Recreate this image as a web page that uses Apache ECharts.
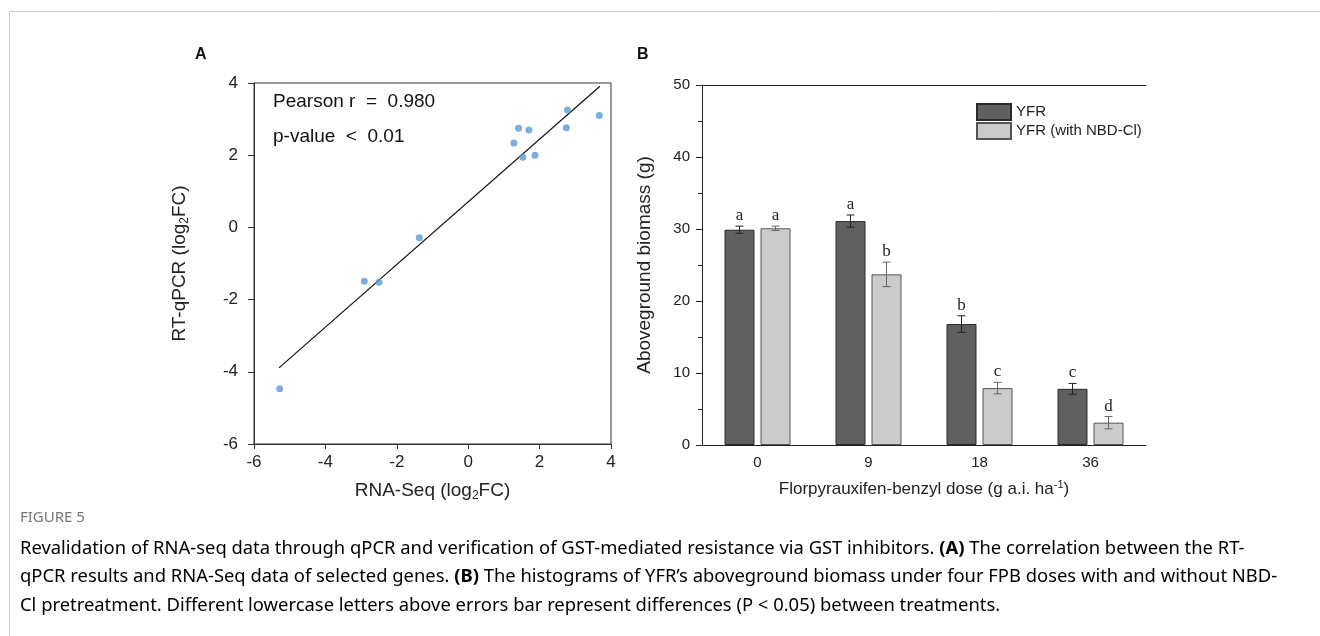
<!DOCTYPE html>
<html>
<head>
<meta charset="utf-8">
<script src="https://cdn.jsdelivr.net/npm/echarts@6/dist/echarts.min.js"></script>
<style>
  html, body { margin: 0; padding: 0; background: #fff; }
  #chart { width: 1320px; height: 636px; }
</style>
</head>
<body>
<div id="chart"></div>
<script>
// ---- panel A: RT-qPCR vs RNA-Seq (log2FC) ----
const rnaSeq = [-5.28, -2.91, -2.50, -1.37, 1.28, 1.41, 1.53, 1.70, 1.87, 2.75, 2.78, 3.67];
const rtqPcr = [-4.47, -1.49, -1.52, -0.29, 2.34, 2.75, 1.94, 2.70, 2.00, 2.76, 3.25, 3.10];
// fitted line end points
const fitX = [-5.30, 3.69];
const fitY = [-3.89, 3.91];

// ---- panel B: aboveground biomass ----
const doses = ['0', '9', '18', '36'];
const yfr = [29.9, 31.1, 16.8, 7.8];
const yfrErr = [0.5, 0.85, 1.15, 0.75];
const yfrLetters = ['a', 'a', 'b', 'c'];
const nbd = [30.1, 23.7, 7.9, 3.1];
const nbdErr = [0.3, 1.7, 0.8, 0.85];
const nbdLetters = ['a', 'b', 'c', 'd'];

const SANS = '"Liberation Sans", Arial, sans-serif';
const SERIF = '"Liberation Serif", "Times New Roman", serif';
const BAR_W = 30;
const BAR_GAP = 6;

const chart = echarts.init(document.getElementById('chart'));

function errorBars(side, errs, letters, color) {
  return function (params, api) {
    const i = params.dataIndex;
    const c = api.coord([api.value(0), api.value(1)]);
    const x = c[0] + side * (BAR_W + BAR_GAP) / 2;
    const top = api.coord([api.value(0), api.value(1) + errs[i]])[1];
    const bot = api.coord([api.value(0), api.value(1) - errs[i]])[1];
    const st = { stroke: color, lineWidth: 1 };
    return {
      type: 'group',
      children: [
        { type: 'line', shape: { x1: x, y1: top, x2: x, y2: bot }, style: st },
        { type: 'line', shape: { x1: x - 4, y1: top, x2: x + 4, y2: top }, style: st },
        { type: 'line', shape: { x1: x - 4, y1: bot, x2: x + 4, y2: bot }, style: st },
        {
          type: 'text',
          style: {
            text: letters[i], x: x, y: top - 2,
            textAlign: 'center', textVerticalAlign: 'bottom',
            font: '17px ' + SERIF, fill: '#222'
          }
        }
      ]
    };
  };
}

const sub = { fontSize: 12, fontFamily: SANS, color: '#222', verticalAlign: 'bottom', lineHeight: 12 };
const sup = { fontSize: 11, fontFamily: SANS, color: '#222', verticalAlign: 'top', lineHeight: 11 };

const captionRich = {
  n: { fontFamily: '"Noto Sans"', fontSize: 18.4, color: '#767676' },
  b: { fontFamily: '"Noto Sans"', fontSize: 18.4, color: '#555', fontWeight: 'bold' }
};

const option = {
  animation: false,
  backgroundColor: '#fff',
  grid: [
    { left: 254, top: 83, width: 357, height: 361, show: true, borderColor: '#333', borderWidth: 1 },
    { left: 702, top: 85, width: 444, height: 360 }
  ],
  legend: {
    data: ['YFR', 'YFR (with NBD-Cl)'],
    orient: 'vertical',
    left: 971, top: 98,
    icon: 'rect',
    itemWidth: 34, itemHeight: 16, itemGap: 1,
    textStyle: { fontFamily: SANS, fontSize: 15, color: '#222' }
  },
  xAxis: [
    {
      gridIndex: 0, type: 'value', min: -6, max: 4, interval: 2,
      name: '{a|RNA-Seq (log}{s|2}{a|FC)}',
      nameLocation: 'middle', nameGap: 36,
      nameTextStyle: { rich: { a: { fontFamily: SANS, fontSize: 19, color: '#222', lineHeight: 22 }, s: sub } },
      axisLine: { onZero: false, lineStyle: { color: '#333' } },
      axisTick: { length: 5, lineStyle: { color: '#333' } },
      axisLabel: { fontFamily: SANS, fontSize: 17, color: '#222', margin: 10 },
      splitLine: { show: false }
    },
    {
      gridIndex: 1, type: 'category', data: doses,
      name: '{a|Florpyrauxifen-benzyl dose (g a.i. ha}{p|-1}{a|)}',
      nameLocation: 'middle', nameGap: 34,
      nameTextStyle: { rich: { a: { fontFamily: SANS, fontSize: 17, color: '#222', lineHeight: 21 }, p: sup } },
      axisLine: { lineStyle: { color: '#222' } },
      axisTick: { alignWithLabel: true, length: 6, lineStyle: { color: '#222' } },
      axisLabel: { fontFamily: SANS, fontSize: 15, color: '#222', margin: 10 }
    },
    {
      gridIndex: 1, type: 'category', data: doses, position: 'top',
      axisLine: { lineStyle: { color: '#222' } },
      axisTick: { show: false }, axisLabel: { show: false }
    }
  ],
  yAxis: [
    {
      gridIndex: 0, type: 'value', min: -6, max: 4, interval: 2,
      name: '{a|RT-qPCR (log}{s|2}{a|FC)}',
      nameLocation: 'middle', nameGap: 63,
      nameTextStyle: { rich: { a: { fontFamily: SANS, fontSize: 19, color: '#222', lineHeight: 22 }, s: sub } },
      axisLine: { show: true, onZero: false, lineStyle: { color: '#333' } },
      axisTick: { show: true, length: 6, lineStyle: { color: '#333' } },
      axisLabel: { fontFamily: SANS, fontSize: 17, color: '#222', margin: 16 },
      splitLine: { show: false }
    },
    {
      gridIndex: 1, type: 'value', min: 0, max: 50, interval: 10,
      name: 'Aboveground biomass (g)',
      nameLocation: 'middle', nameGap: 48,
      nameTextStyle: { fontFamily: SANS, fontSize: 19, color: '#222' },
      axisLine: { show: true, lineStyle: { color: '#222' } },
      axisTick: { show: true, length: 6, lineStyle: { color: '#222' } },
      minorTick: { show: true, splitNumber: 2, length: 4, lineStyle: { color: '#222' } },
      axisLabel: { fontFamily: SANS, fontSize: 15, color: '#222', margin: 12 },
      splitLine: { show: false }
    }
  ],
  series: [
    {
      type: 'line', xAxisIndex: 0, yAxisIndex: 0,
      data: fitX.map((x, i) => [x, fitY[i]]),
      symbol: 'none', lineStyle: { color: '#111', width: 1.2 }, z: 2
    },
    {
      type: 'scatter', xAxisIndex: 0, yAxisIndex: 0,
      data: rnaSeq.map((x, i) => [x, rtqPcr[i]]),
      symbolSize: 7, itemStyle: { color: '#5b9bd5' }, z: 3
    },
    {
      name: 'YFR', type: 'bar', xAxisIndex: 1, yAxisIndex: 1,
      data: yfr, barWidth: BAR_W, barGap: (BAR_GAP / BAR_W * 100) + '%',
      itemStyle: { color: '#606060', borderColor: '#2a2a2a', borderWidth: 1 }
    },
    {
      name: 'YFR (with NBD-Cl)', type: 'bar', xAxisIndex: 1, yAxisIndex: 1,
      data: nbd, barWidth: BAR_W,
      itemStyle: { color: '#cbcbcb', borderColor: '#555', borderWidth: 1 }
    },
    {
      type: 'custom', xAxisIndex: 1, yAxisIndex: 1, z: 5,
      data: yfr.map((v, i) => [i, v]),
      renderItem: errorBars(-1, yfrErr, yfrLetters, '#222')
    },
    {
      type: 'custom', xAxisIndex: 1, yAxisIndex: 1, z: 5,
      data: nbd.map((v, i) => [i, v]),
      renderItem: errorBars(1, nbdErr, nbdLetters, '#666')
    }
  ],
  graphic: [
    {
      type: 'polyline', silent: true,
      shape: { points: [[9.5, 636], [9.5, 11.5], [1320, 11.5]] },
      style: { stroke: '#cfcfcf', lineWidth: 1, fill: null }
    },
    { type: 'text', x: 195, y: 55, style: { text: 'A', font: 'bold 16px ' + SANS, fill: '#111', textVerticalAlign: 'middle' } },
    { type: 'text', x: 637, y: 55, style: { text: 'B', font: 'bold 16px ' + SANS, fill: '#111', textVerticalAlign: 'middle' } },
    { type: 'text', x: 273, y: 102, style: { text: 'Pearson r  =  0.980', font: '19px ' + SANS, fill: '#111', textVerticalAlign: 'middle' } },
    { type: 'text', x: 273, y: 137, style: { text: 'p-value  <  0.01', font: '19px ' + SANS, fill: '#111', textVerticalAlign: 'middle' } },
    { type: 'text', x: 20, y: 518, style: { text: 'FIGURE 5', font: '15px "Noto Sans"', fill: '#777', textVerticalAlign: 'middle' } },
    {
      type: 'text', x: 20, y: 549,
      style: {
        text: '{n|Revalidation of RNA-seq data through qPCR and verification of GST-mediated resistance via GST inhibitors. }{b|(A)}{n| The correlation between the RT-}',
        rich: captionRich, textVerticalAlign: 'middle'
      }
    },
    {
      type: 'text', x: 20, y: 577,
      style: {
        text: '{n|qPCR results and RNA-Seq data of selected genes. }{b|(B)}{n| The histograms of YFR\u2019s aboveground biomass under four FPB doses with and without NBD-}',
        rich: captionRich, textVerticalAlign: 'middle'
      }
    },
    {
      type: 'text', x: 20, y: 606,
      style: {
        text: '{n|Cl pretreatment. Different lowercase letters above errors bar represent differences (P < 0.05) between treatments.}',
        rich: captionRich, textVerticalAlign: 'middle'
      }
    }
  ]
};

chart.setOption(option);
</script>
</body>
</html>
